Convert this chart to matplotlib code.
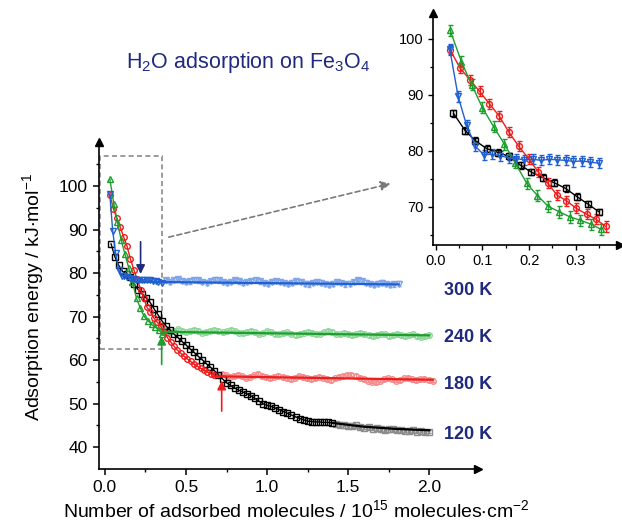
import numpy as np
import matplotlib
matplotlib.use("Agg")
import matplotlib.pyplot as plt
from matplotlib.patches import Rectangle

plt.rcParams['font.family'] = ['Liberation Sans', 'DejaVu Sans']
plt.rcParams['mathtext.default'] = 'regular'

NAVY = '#1f2a7e'

# early (low coverage) points, also shown in the inset
black_x = [0.038, 0.063, 0.085, 0.109, 0.134, 0.157, 0.182, 0.205, 0.23, 0.254, 0.278, 0.303, 0.326, 0.35]
black_y = [86.7, 83.6, 81.8, 80.4, 79.7, 79.0, 77.4, 76.2, 75.2, 74.3, 73.3, 71.8, 70.5, 69.1]
red_x = [0.031, 0.052, 0.073, 0.094, 0.115, 0.136, 0.157, 0.178, 0.199, 0.22, 0.24, 0.26, 0.28, 0.30, 0.323, 0.343, 0.364]
red_y = [98.0, 94.8, 92.7, 90.6, 88.4, 86.2, 83.3, 80.8, 78.6, 76.2, 74.2, 72.1, 71.1, 69.8, 68.7, 67.8, 66.5]
green_x = [0.031, 0.055, 0.077, 0.1, 0.124, 0.147, 0.17, 0.195, 0.218, 0.241, 0.265, 0.288, 0.31, 0.333, 0.354]
green_y = [101.5, 95.9, 91.8, 87.7, 84.3, 81.2, 77.9, 74.2, 72.0, 70.1, 69.1, 68.2, 67.6, 66.9, 66.0]
blue_x = [0.03, 0.048, 0.066, 0.085, 0.103, 0.12, 0.138, 0.156, 0.173, 0.19, 0.208, 0.226,
          0.243, 0.26, 0.278, 0.295, 0.313, 0.33, 0.35]
blue_y = [98.2, 89.7, 84.6, 80.8, 79.3, 79.4, 79.1, 78.8, 78.6, 78.4, 78.5, 78.3,
          78.5, 78.4, 78.3, 78.1, 78.2, 78.0, 77.8]

# middle part of the 120 K and 180 K curves
black_mid = [67.9, 67.0, 66.0, 65.2, 64.3, 63.5, 62.6, 61.8, 60.9, 60.1, 59.2, 58.4, 57.6, 56.6,
             55.7, 54.8, 54.2, 53.6, 53.1, 52.7, 52.3, 51.8, 51.2, 50.6, 50.0, 49.6, 49.4, 49.0,
             48.6, 48.2, 47.8, 47.4, 47.0, 46.6, 46.3, 46.0, 45.9, 45.8, 45.8, 45.7, 45.7, 45.6]
black_mid_range = (0.375, 1.40)
red_mid = [65.2, 64.2, 63.2, 62.3, 61.6, 60.9, 60.3, 59.7, 59.1, 58.6, 58.1, 57.7, 57.3, 56.9, 56.6]
red_mid_range = (0.385, 0.672)

# plateau points (light markers)
blue_plat = [78.3, 78.0, 78.4, 78.6, 78.2, 77.9, 78.1, 78.4, 78.3, 78.0,
             77.8, 78.2, 78.5, 78.3, 77.9, 77.7, 78.0, 78.3, 78.1, 77.8,
             78.0, 78.2, 78.4, 78.1, 77.7, 77.6, 77.9, 78.2, 78.0, 77.7,
             77.5, 77.8, 78.1, 77.9, 77.6, 77.4, 77.7, 78.0, 77.8, 77.5,
             77.3, 77.6, 77.9, 77.7, 77.4, 77.6, 78.0, 78.4, 78.2, 77.8,
             77.5, 77.3, 77.6, 77.8, 77.5, 77.2, 77.4, 77.6]
blue_plat_range = (0.375, 1.81)
green_plat = [66.9, 66.5, 66.8, 67.1, 66.7, 66.4, 66.6, 66.9, 66.7, 66.3, 66.5, 66.8, 67.0, 66.7,
              66.4, 66.6, 66.9, 66.6, 66.3, 66.2, 66.5, 66.7, 66.4, 66.1, 66.3, 66.6, 66.4, 66.0,
              65.9, 66.2, 66.4, 66.1, 65.8, 66.0, 66.3, 66.5, 66.2, 65.9, 66.1, 66.4, 66.7, 66.5,
              66.1, 65.9, 66.2, 66.0, 65.7, 65.9, 66.2, 66.0, 65.7, 65.5, 65.8, 66.1, 65.9, 65.6,
              65.8, 66.0, 65.7, 65.5, 65.7, 65.9, 65.6, 65.4, 65.6, 65.7]
green_plat_range = (0.375, 2.0)
red_plat = [56.6, 56.9, 56.5, 56.2, 56.4, 56.7, 56.3, 56.0, 56.2, 56.5, 56.8, 56.4, 56.1, 55.9,
            56.2, 56.4, 56.1, 55.8, 55.7, 56.0, 56.3, 56.1, 55.8, 55.6, 55.9, 56.2, 56.0, 55.7,
            55.5, 55.8, 56.1, 56.4, 56.6, 56.7, 56.4, 56.0, 55.6, 55.3, 55.1, 55.0, 55.3, 55.6,
            55.8, 55.6, 55.3, 55.5, 55.8, 55.9, 55.6, 55.4, 55.6, 55.7, 55.4, 55.3]
red_plat_range = (0.695, 2.02)
gray_plat = [45.3, 45.0, 45.2, 44.9, 44.8, 45.0, 44.7, 44.5, 44.6, 44.3, 44.4, 44.2,
             44.0, 44.3, 44.1, 43.9, 44.0, 43.8, 43.7, 43.9, 43.6, 43.8, 43.5, 43.6]
gray_plat_range = (1.425, 2.0)

# fitted lines through the plateaus
blue_fit_x, blue_fit_y = [0.2, 1.81], [78.0, 77.4]
green_fit_x, green_fit_y = [0.36, 2.0], [66.5, 65.7]
red_fit_x, red_fit_y = [0.67, 2.02], [56.3, 55.5]
black_fit_x, black_fit_y = [1.4, 1.6, 1.8, 2.0], [45.6, 44.7, 44.2, 43.9]

temps = ['300 K', '240 K', '180 K', '120 K']
temp_y = [76.1, 65.1, 54.3, 43.0]

c_black, c_red, c_green, c_blue = '#000000', '#ee1c1c', '#1e9e2e', '#2060d0'
l_gray, l_red, l_green, l_blue = '#8c8c8c', '#f58a8a', '#8cd698', '#7fa6ea'


def grid(rng, vals):
    return np.linspace(rng[0], rng[1], len(vals))


def arrows(ax):
    ax.plot(1, 0, '>k', transform=ax.transAxes, clip_on=False, ms=6)
    ax.plot(0, 1, '^k', transform=ax.transAxes, clip_on=False, ms=6)
    for s in ['top', 'right']:
        ax.spines[s].set_visible(False)
    for s in ['left', 'bottom']:
        ax.spines[s].set_linewidth(1.2)


fig = plt.figure(figsize=(6.22, 5.32), dpi=100)
ax = fig.add_axes([0.159, 0.1184, 0.6095, 0.6146])
mk = dict(mfc='none', mew=1.0, ms=4.0)
pmk = dict(mfc='none', mew=1.0, ms=4.0, elinewidth=0.8, capsize=1.2, capthick=0.8, ls='none')

# plateaus first (light)
ax.errorbar(grid(blue_plat_range, blue_plat), blue_plat, yerr=0.5, fmt='v', color=l_blue, **pmk)
ax.errorbar(grid(green_plat_range, green_plat), green_plat, yerr=0.4, fmt='o', color=l_green, **pmk)
ax.errorbar(grid(red_plat_range, red_plat), red_plat, yerr=0.4, fmt='o', color=l_red, **pmk)
ax.errorbar(grid(gray_plat_range, gray_plat), gray_plat, yerr=0.4, fmt='s', color=l_gray, **pmk)

# early + middle parts
ax.plot(black_x + list(grid(black_mid_range, black_mid)), black_y + black_mid, 's-',
        color=c_black, lw=1.0, zorder=3, **mk)
ax.plot(red_x + list(grid(red_mid_range, red_mid)), red_y + red_mid, 'o-',
        color=c_red, lw=1.0, zorder=3, **mk)
ax.plot(green_x, green_y, '^-', color=c_green, lw=1.0, zorder=3, **mk)
ax.plot(blue_x, blue_y, 'v-', color=c_blue, lw=1.0, zorder=3, **mk)

ax.plot(blue_fit_x, blue_fit_y, '-', color=c_blue, lw=1.6, zorder=4)
ax.plot(green_fit_x, green_fit_y, '-', color=c_green, lw=1.6, zorder=4)
ax.plot(red_fit_x, red_fit_y, '-', color=c_red, lw=1.6, zorder=4)
ax.plot(black_fit_x, black_fit_y, '-', color=c_black, lw=1.6, zorder=4)

for t, ty in zip(temps, temp_y):
    ax.text(2.09, ty, t, color=NAVY, fontsize=13, fontweight='bold', va='center', ha='left')

ap = dict(arrowstyle='-|>', lw=1.2, mutation_scale=13, shrinkA=0, shrinkB=0)
ax.annotate('', xy=(0.22, 79.8), xytext=(0.22, 87.2), arrowprops=dict(color=NAVY, **ap))
ax.annotate('', xy=(0.35, 65.6), xytext=(0.35, 59.0), arrowprops=dict(color=c_green, **ap))
ax.annotate('', xy=(0.72, 55.3), xytext=(0.72, 48.3), arrowprops=dict(color=c_red, **ap))

ax.add_patch(Rectangle((-0.03, 62.5), 0.38, 44.4, fill=False, ec='#8a8a8a', ls=(0, (3, 2)),
                       lw=1.2, clip_on=False))

ax.set_xlim(-0.037, 2.30)
ax.set_ylim(35, 110.1)
ax.set_xticks([0.0, 0.5, 1.0, 1.5, 2.0])
ax.set_xticks([0.25, 0.75, 1.25, 1.75], minor=True)
ax.set_yticks([40, 50, 60, 70, 80, 90, 100])
ax.set_yticks([45, 55, 65, 75, 85, 95, 105], minor=True)
ax.tick_params(which='major', direction='out', length=4, width=1.1, labelsize=12.5, pad=4)
ax.tick_params(which='minor', direction='out', length=2.5, width=1.0)
arrows(ax)

# inset
ins = fig.add_axes([0.696, 0.5395, 0.301, 0.4361])
emk = dict(mfc='none', mew=1.0, ms=4.2, lw=1.0, elinewidth=1.0, capsize=1.8, capthick=1.0)
ins.errorbar(black_x, black_y, yerr=0.6, fmt='s-', color=c_black, **emk)
ins.errorbar(red_x, red_y, yerr=0.9, fmt='o-', color=c_red, **emk)
ins.errorbar(green_x, green_y, yerr=1.0, fmt='^-', color=c_green, **emk)
ins.errorbar(blue_x, blue_y, yerr=0.9, fmt='v-', color=c_blue, **emk)
ins.set_xlim(-0.006, 0.395)
ins.set_ylim(63.2, 104.6)
ins.set_xticks([0.0, 0.1, 0.2, 0.3])
ins.set_xticks([0.05, 0.15, 0.25, 0.35], minor=True)
ins.set_yticks([70, 80, 90, 100])
ins.set_yticks([65, 75, 85, 95], minor=True)
ins.tick_params(which='major', direction='out', length=3.5, width=1.0, labelsize=10.5, pad=3)
ins.tick_params(which='minor', direction='out', length=2.2, width=0.9)
arrows(ins)

# dashed arrow from box to inset
fig.add_artist(matplotlib.patches.FancyArrowPatch(
    (0.267, 0.553), (0.632, 0.656), transform=fig.transFigure, arrowstyle='-|>',
    mutation_scale=14, color='#7a7a7a', lw=1.2, ls=(0, (3, 2))))

fig.text(0.40, 0.883, 'H$_2$O adsorption on Fe$_3$O$_4$', color=NAVY, fontsize=15.5,
         ha='center', va='center')
fig.text(0.053, 0.442, 'Adsorption energy / kJ$\\cdot$mol$^{-1}$', rotation=90,
         fontsize=14, ha='center', va='center')
fig.text(0.477, 0.041, 'Number of adsorbed molecules / 10$^{15}$ molecules$\\cdot$cm$^{-2}$',
         fontsize=14, ha='center', va='center')

fig.savefig('out.png', dpi=100)
